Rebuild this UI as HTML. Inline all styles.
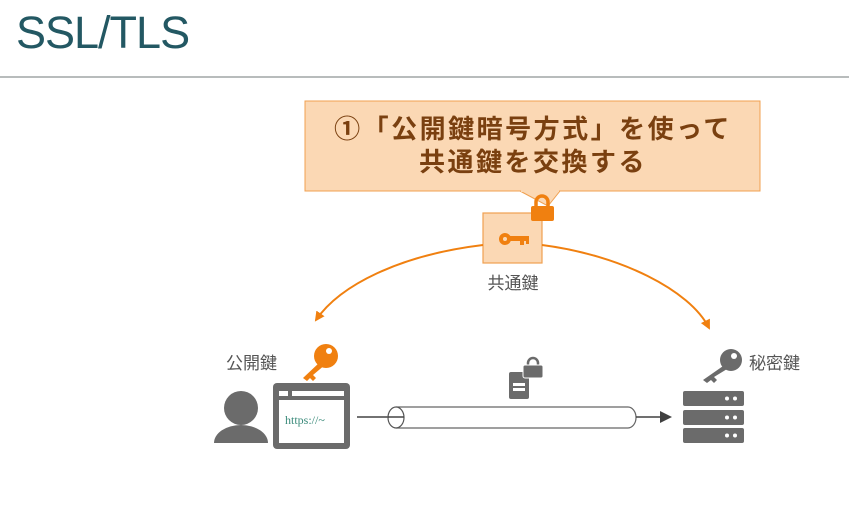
<!DOCTYPE html>
<html><head><meta charset="utf-8"><style>
html,body{margin:0;padding:0;background:#fff;}
svg{display:block}
</style></head><body>
<svg width="849" height="524" viewBox="0 0 849 524" xmlns="http://www.w3.org/2000/svg">
<defs>
<marker id="ao" markerWidth="10" markerHeight="10" refX="8" refY="5" orient="auto" markerUnits="userSpaceOnUse"><path d="M0,0 L10,5 L0,10 Z" fill="#f08010"/></marker>
<marker id="ag" markerWidth="12" markerHeight="12" refX="10" refY="6" orient="auto" markerUnits="userSpaceOnUse"><path d="M0,0 L12,6 L0,12 Z" fill="#404040"/></marker>
</defs>
<text x="16" y="48" font-family="Liberation Sans, sans-serif" font-size="45" letter-spacing="-1" fill="#235863">SSL/TLS</text>
<rect x="0" y="76" width="849" height="2" fill="#b8bcbc"/>
<!-- callout -->
<path d="M520,191 L548,206 L560,191" fill="#fbd8b4" stroke="#f0a050" stroke-width="1"/>
<rect x="305" y="101" width="455" height="90" fill="#fbd8b4" stroke="#f0a050" stroke-width="1"/>
<rect x="521" y="190" width="38" height="2" fill="#fbd8b4"/>
<text x="533" y="138" text-anchor="middle" font-family="Liberation Sans, Noto Sans CJK JP, sans-serif" font-size="26" letter-spacing="2.5" font-weight="bold" fill="#7a4010">①「公開鍵暗号方式」を使って</text>
<text x="533" y="171" text-anchor="middle" font-family="Liberation Sans, Noto Sans CJK JP, sans-serif" font-size="26" letter-spacing="2.5" font-weight="bold" fill="#7a4010">共通鍵を交換する</text>
<!-- key box -->
<rect x="483" y="213" width="59" height="50" fill="#fbd8b4" stroke="#f0a050" stroke-width="1.2"/>
<circle cx="505" cy="239" r="6" fill="#f08010"/><circle cx="505" cy="239" r="2" fill="#fbd8b4"/>
<rect x="509" y="236" width="20" height="5" fill="#f08010"/><rect x="520" y="239" width="4" height="6" fill="#f08010"/><rect x="526" y="239" width="3" height="5" fill="#f08010"/>
<!-- lock orange -->
<path d="M536,207 v-5 a6,6 0 0 1 12,0 v5" fill="none" stroke="#f08010" stroke-width="3.5"/>
<rect x="531" y="206" width="23" height="15" rx="2" fill="#f08010"/>
<text x="513" y="289" text-anchor="middle" font-family="Liberation Sans, Noto Sans CJK JP, sans-serif" font-size="17" fill="#555">共通鍵</text>
<!-- arrows -->
<path d="M483,245 C400,255 340,285 316,320" fill="none" stroke="#f08010" stroke-width="2" marker-end="url(#ao)"/>
<path d="M542,245 C620,255 690,290 709,328" fill="none" stroke="#f08010" stroke-width="2" marker-end="url(#ao)"/>
<!-- left labels -->
<text x="226" y="369" font-family="Liberation Sans, Noto Sans CJK JP, sans-serif" font-size="17" fill="#555">公開鍵</text>
<g fill="#f08010">
<circle cx="326" cy="356" r="12"/>
<path d="M320,362 L303,378 L307,381 L310,378 L313,381 L316,378 L313,375 L326,364 Z"/>
</g>
<circle cx="329" cy="351" r="3" fill="#fff"/>
<!-- person -->
<circle cx="241" cy="408" r="17" fill="#6b6b6b"/>
<path d="M214,443 a27,18 0 0 1 54,0 Z" fill="#6b6b6b"/>
<!-- browser -->
<rect x="273" y="383" width="77" height="66" rx="4" fill="#6b6b6b"/>
<rect x="279" y="391" width="9" height="5" fill="#fff"/>
<rect x="292" y="391" width="52" height="5" fill="#fff"/>
<rect x="279" y="400" width="65" height="43" fill="#fff"/>
<text x="285" y="424" font-family="Liberation Serif, serif" font-size="12" fill="#3a8a7a">https://~</text>
<!-- tube -->
<line x1="357" y1="417" x2="390" y2="417" stroke="#444" stroke-width="1.5"/>
<path d="M396,407 H628 A8,10.5 0 0 1 628,428 H396" fill="#fff" stroke="#666" stroke-width="1.2"/>
<ellipse cx="396" cy="417.5" rx="8" ry="10.5" fill="#fff" stroke="#555" stroke-width="1.2"/>
<line x1="388" y1="417" x2="404" y2="417" stroke="#444" stroke-width="1.5"/>
<line x1="636" y1="417" x2="670" y2="417" stroke="#404040" stroke-width="1.5" marker-end="url(#ag)"/>
<!-- doc lock -->
<rect x="509" y="372" width="20" height="27" rx="2" fill="#6b6b6b"/>
<rect x="513" y="383" width="12" height="3" fill="#fff"/><rect x="513" y="388" width="12" height="3" fill="#fff"/>
<path d="M528,366 v-3 a5,5 0 0 1 10,0 v3" fill="none" stroke="#6b6b6b" stroke-width="2.5"/>
<rect x="523" y="365" width="20" height="13" rx="2" fill="#6b6b6b" stroke="#fff" stroke-width="1"/>
<!-- right key -->
<g fill="#6b6b6b">
<circle cx="731" cy="360" r="11"/>
<path d="M726,364 L703,380 L707,383 L711,380 L714,383 L717,380 L714,377 L732,366 Z"/>
</g>
<circle cx="734" cy="356" r="3" fill="#fff"/>
<text x="749" y="369" font-family="Liberation Sans, Noto Sans CJK JP, sans-serif" font-size="17" fill="#555">秘密鍵</text>
<!-- server -->
<g fill="#6b6b6b">
<rect x="683" y="391" width="61" height="15" rx="2"/>
<rect x="683" y="410" width="61" height="15" rx="2"/>
<rect x="683" y="428" width="61" height="15" rx="2"/>
</g>
<g fill="#fff">
<circle cx="727" cy="398.5" r="2"/><circle cx="735" cy="398.5" r="2"/>
<circle cx="727" cy="417.5" r="2"/><circle cx="735" cy="417.5" r="2"/>
<circle cx="727" cy="435.5" r="2"/><circle cx="735" cy="435.5" r="2"/>
</g>
</svg>
</body></html>
